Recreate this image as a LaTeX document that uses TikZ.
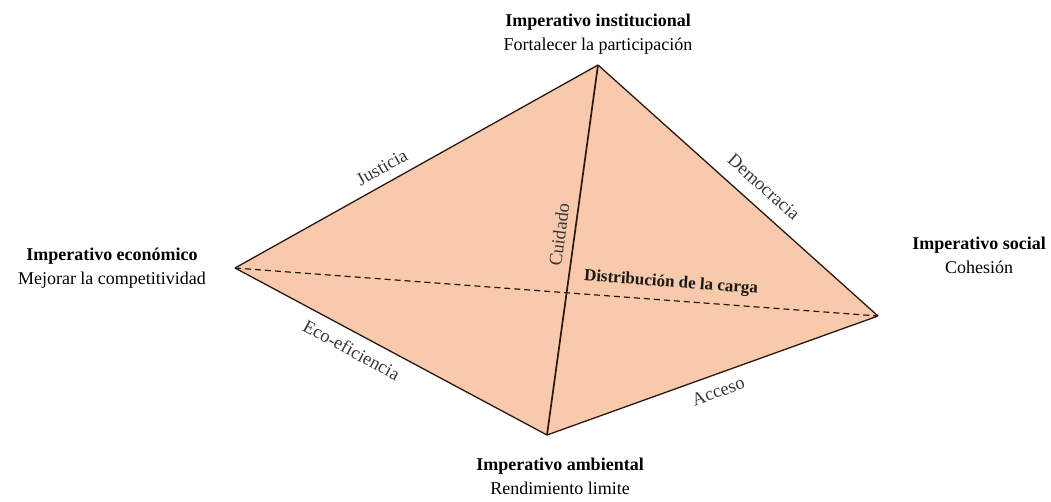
\documentclass[tikz,border=0pt]{standalone}
\usepackage{fontspec}
\setmainfont{Liberation Serif}
\definecolor{peach}{RGB}{248,201,170}
\definecolor{edgec}{RGB}{40,25,18}
\begin{document}
\begin{tikzpicture}[x=1pt,y=-1pt,
  edge/.style={draw=edgec,line width=1.3pt},
  inner/.style={draw=edgec,line width=1.7pt},
  dashedge/.style={draw=edgec,line width=1.2pt,dash pattern=on 6pt off 4pt},
  vlabel/.style={align=center,font=\fontsize{18}{24}\selectfont,inner sep=0pt},
  elabel/.style={font=\fontsize{18.5}{20}\selectfont,sloped,inner sep=10pt,text=black!78},
]
\useasboundingbox (0,0) rectangle (1051,501);
\coordinate (T) at (598,65);
\coordinate (L) at (235,268);
\coordinate (R) at (878,316);
\coordinate (B) at (547,435);
\fill[peach] (L) -- (T) -- (R) -- (B) -- cycle;
\draw[edge] (L) -- node[elabel,above,pos=0.426,inner sep=9pt] (ej) {Justicia} (T);
\draw[edge] (T) -- node[elabel,above,pos=0.545,inner sep=13pt] (ed) {Democracia} (R);
\draw[edge] (L) -- node[elabel,below,pos=0.40,inner sep=10pt] (ee) {Eco-eficiencia} (B);
\draw[edge] (B) -- node[elabel,below,pos=0.5,inner sep=10pt] (ea) {Acceso} (R);
\draw[dashedge] (L) -- node[elabel,above,pos=0.676,inner sep=9pt,font=\fontsize{17}{20}\selectfont\bfseries,text=black!90] (edc) {Distribución de la carga} (R);
\draw[inner] (B) -- node[elabel,above,pos=0.536,inner sep=8pt] (ec) {Cuidado} (T);
\node[vlabel] (vt) at (598,34) {\textbf{Imperativo institucional}\\Fortalecer la participación};
\node[vlabel] (vl) at (112,268) {\textbf{Imperativo económico}\\Mejorar la competitividad};
\node[vlabel] (vr) at (979,255) {\textbf{Imperativo social}\\Cohesión};
\node[vlabel] (vb) at (560,476) {\textbf{Imperativo ambiental}\\Rendimiento limite};
\end{tikzpicture}
\end{document}
